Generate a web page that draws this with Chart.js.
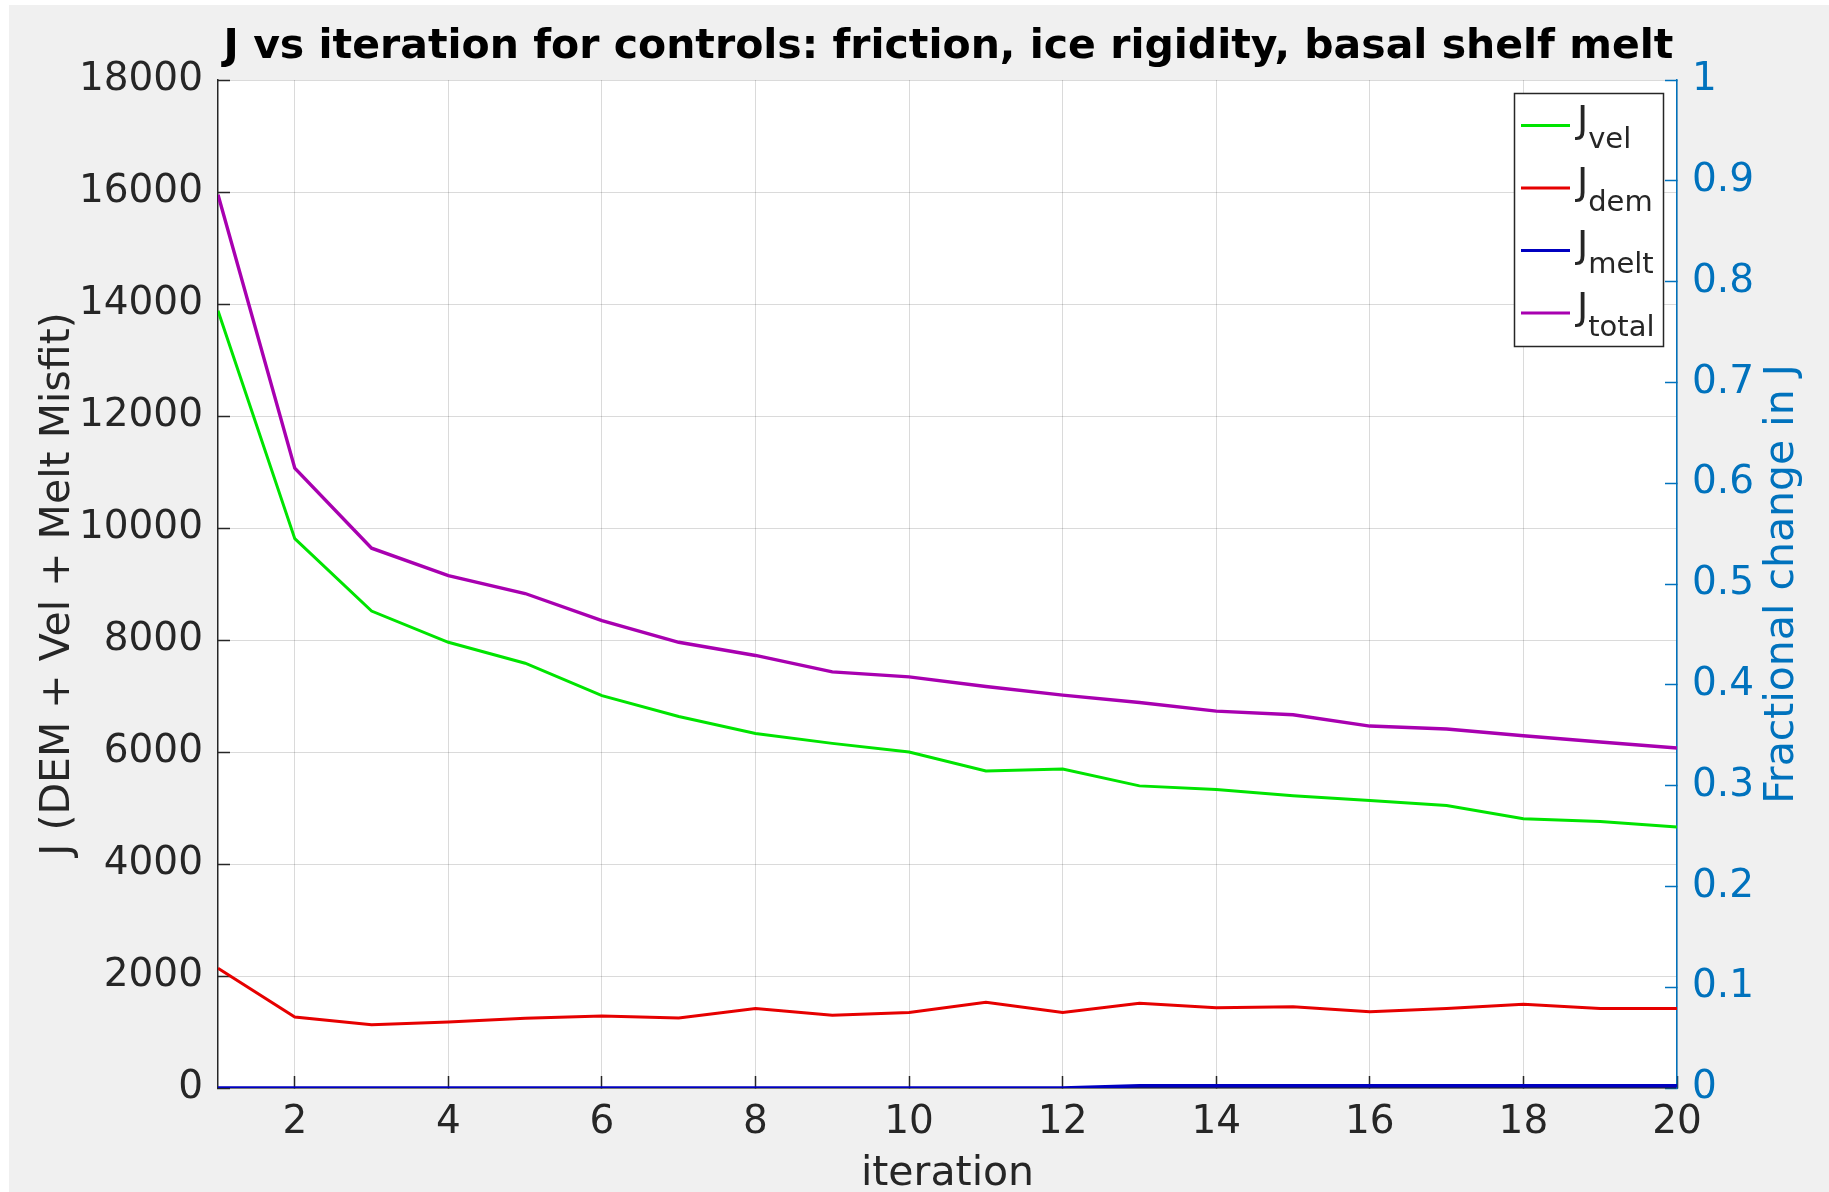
<!DOCTYPE html>
<html>
<head>
<meta charset="utf-8">
<script src="https://cdn.jsdelivr.net/npm/chart.js@4.4.1/dist/chart.umd.min.js"></script>
<style>
  html, body { margin: 0; padding: 0; background: #ffffff; }
  #c { display: block; }
</style>
</head>
<body>
<canvas id="c" width="1829" height="1192"></canvas>
<script>
// ---- data ----
const iterations = [1,2,3,4,5,6,7,8,9,10,11,12,13,14,15,16,17,18,19,20];
const jVel   = [13880, 9810, 8517, 7959, 7585, 7007, 6633, 6330, 6154, 6000, 5662, 5697, 5395, 5329, 5217, 5134, 5045, 4807, 4760, 4659];
const jDem   = [2140, 1268, 1128, 1177, 1244, 1287, 1250, 1421, 1299, 1348, 1530, 1348, 1512, 1433, 1451, 1360, 1421, 1494, 1421, 1421];
const jMelt  = [0, 0, 0, 0, 0, 0, 0, 0, 0, 0, 0, 0, 40, 40, 40, 40, 40, 40, 40, 40];
const jTotal = [15952, 11068, 9639, 9150, 8830, 8347, 7959, 7724, 7430, 7341, 7169, 7015, 6884, 6730, 6665, 6463, 6410, 6291, 6178, 6071];

const seriesMain = 'J';
const seriesSubs = ['vel', 'dem', 'melt', 'total'];
const seriesColors = ['#00e400', '#e60000', '#0000c0', '#a800b0'];

const titleText = 'J vs iteration for controls: friction, ice rigidity, basal shelf melt';
const xTitle = 'iteration';
const yTitle = 'J (DEM + Vel + Melt Misfit)';
const y1Title = 'Fractional change in J';

const leftMax = 18000, leftStep = 2000;
const rightMax = 1, rightStep = 0.1;
const xMin = 1, xMax = 20, xStep = 2;

const FONT = '"DejaVu Sans"';
const AX = '#262626';
const BLUE = '#0072BD';
const GRID = 'rgba(38,38,38,0.17)';

function pts(vals) { return iterations.map((it, i) => ({ x: it, y: vals[i] })); }

const bgPlugin = {
  id: 'bg',
  beforeDraw(chart) {
    const { ctx, chartArea: a } = chart;
    ctx.save();
    ctx.fillStyle = '#ffffff';
    ctx.fillRect(0, 0, chart.width, chart.height);
    ctx.fillStyle = '#f0f0f0';
    ctx.fillRect(9, 5, chart.width - 9, chart.height - 5);
    ctx.fillStyle = '#ffffff';
    ctx.fillRect(a.left, a.top, a.right - a.left, a.bottom - a.top);
    ctx.restore();
  },
  afterDraw(chart) {
    const { ctx, chartArea: a } = chart;
    // right axis title (reads bottom-to-top)
    const s = chart.scales.y1;
    ctx.save();
    ctx.translate(s.right - 47, (a.top + a.bottom) / 2);
    ctx.rotate(-Math.PI / 2);
    ctx.textAlign = 'center';
    ctx.textBaseline = 'middle';
    ctx.font = '41px ' + FONT;
    ctx.fillStyle = BLUE;
    ctx.fillText(y1Title, 0, 0);
    ctx.restore();

    // legend with subscripts
    const bx = a.right - 163, by = a.top + 13, bw = 149, bh = 253;
    ctx.save();
    ctx.fillStyle = '#ffffff';
    ctx.fillRect(bx, by, bw, bh);
    ctx.strokeStyle = AX;
    ctx.lineWidth = 1.5;
    ctx.strokeRect(bx + 0.5, by + 0.5, bw, bh);
    chart.data.datasets.forEach((ds, i) => {
      const ly = by + 32.5 + i * 62.5;
      ctx.strokeStyle = ds.borderColor;
      ctx.lineWidth = 2.8;
      ctx.beginPath();
      ctx.moveTo(bx + 7, ly);
      ctx.lineTo(bx + 56, ly);
      ctx.stroke();
      ctx.fillStyle = AX;
      ctx.textAlign = 'left';
      ctx.textBaseline = 'alphabetic';
      ctx.font = '38px ' + FONT;
      ctx.fillText(seriesMain, bx + 63, ly + 6);
      const w = ctx.measureText(seriesMain).width;
      ctx.font = '29px ' + FONT;
      ctx.fillText(seriesSubs[i], bx + 63 + w, ly + 22.5);
    });
    ctx.restore();
  }
};

const chart = new Chart(document.getElementById('c'), {
  type: 'line',
  data: {
    datasets: [
      { label: 'J_' + seriesSubs[0], data: pts(jVel),   borderColor: seriesColors[0], borderWidth: 3,   yAxisID: 'y' },
      { label: 'J_' + seriesSubs[1], data: pts(jDem),   borderColor: seriesColors[1], borderWidth: 3,   yAxisID: 'y' },
      { label: 'J_' + seriesSubs[2], data: pts(jMelt),  borderColor: seriesColors[2], borderWidth: 3.5, yAxisID: 'y', clip: 0 },
      { label: 'J_' + seriesSubs[3], data: pts(jTotal), borderColor: seriesColors[3], borderWidth: 3.4, yAxisID: 'y' }
    ]
  },
  options: {
    responsive: false,
    animation: false,
    devicePixelRatio: 1,
    layout: { padding: { left: 68, right: 0, top: 0, bottom: 0 } },
    elements: { point: { radius: 0, hoverRadius: 0 }, line: { tension: 0, fill: false } },
    plugins: {
      legend: { display: false },
      tooltip: { enabled: false },
      title: {
        display: true,
        text: titleText,
        color: '#000000',
        font: { family: 'DejaVu Sans', size: 41, weight: 'bold' },
        padding: { top: 22.7, bottom: 8.1 }
      }
    },
    scales: {
      x: {
        type: 'linear',
        position: 'bottom',
        min: xMin, max: xMax,
        afterFit(s) { s.height = 104; },
        ticks: {
          stepSize: xStep,
          includeBounds: false,
          color: AX,
          font: { family: 'DejaVu Sans', size: 39 },
          padding: 23.5,
          maxRotation: 0,
          callback: v => String(v)
        },
        grid: { color: GRID, lineWidth: 1, tickLength: -12, tickColor: AX, tickWidth: 1.5 },
        border: { display: true, color: AX, width: 1.5 },
        title: { display: true, text: xTitle, color: AX, font: { family: 'DejaVu Sans', size: 41 }, padding: { top: 0, bottom: -6.5 } }
      },
      y: {
        type: 'linear',
        position: 'left',
        min: 0, max: leftMax,
        afterFit(s) { s.width = 150; },
        ticks: {
          stepSize: leftStep,
          color: AX,
          font: { family: 'DejaVu Sans', size: 39 },
          padding: 27,
          callback: v => String(v)
        },
        grid: { color: GRID, lineWidth: 1, tickLength: -12, tickColor: AX, tickWidth: 1.5 },
        border: { display: true, color: AX, width: 1.5 },
        title: { display: true, text: yTitle, color: AX, font: { family: 'DejaVu Sans', size: 41 }, padding: { top: -34.1, bottom: 0 } }
      },
      y1: {
        type: 'linear',
        position: 'right',
        min: 0, max: rightMax,
        afterFit(s) { s.width = 152; },
        ticks: {
          stepSize: rightStep,
          color: BLUE,
          font: { family: 'DejaVu Sans', size: 39 },
          padding: 27,
          callback: v => String(Math.round(v * 10) / 10)
        },
        grid: { drawOnChartArea: false, tickLength: -12, tickColor: BLUE, tickWidth: 1.5 },
        border: { display: true, color: BLUE, width: 1.5 },
        title: { display: false }
      }
    }
  },
  plugins: [bgPlugin]
});
</script>
</body>
</html>
